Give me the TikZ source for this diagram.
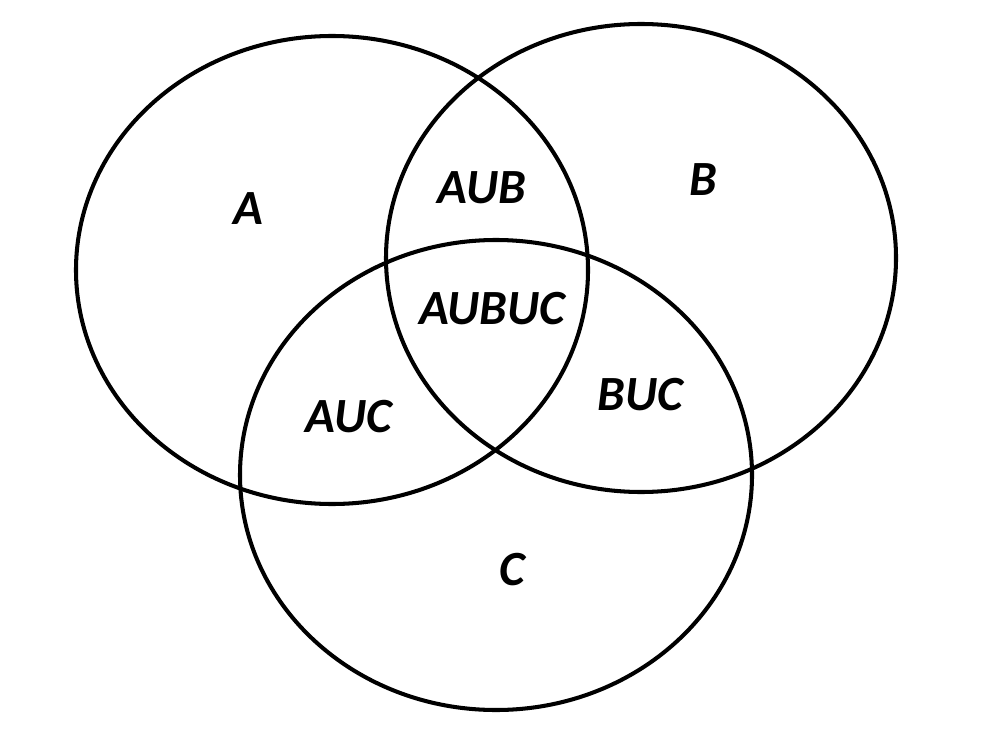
\documentclass[tikz,border=0pt]{standalone}
\usepackage{fontspec}
\setmainfont{Carlito}
\usepackage{tikz}

\tikzset{
  set/.style={draw=black,line width=2.3pt},
  lbl/.style={font=\fontsize{28}{33}\selectfont\bfseries\itshape,inner sep=0pt}
}

\begin{document}
\begin{tikzpicture}[x=0.02cm,y=-0.02cm]
\useasboundingbox (0,0) rectangle (999,729);
\draw[set] (332,270) ellipse [x radius=256,y radius=234];
\draw[set] (641,258) ellipse [x radius=255,y radius=234];
\draw[set] (496,475) ellipse [x radius=256,y radius=235];

\node[lbl](A) at (248,209) {A};
\node[lbl](B) at (703,180) {B};
\node[lbl](C) at (512,570) {C};
\node[lbl](AB) at (482,188) {AUB};
\node[lbl](ABC) at (492,309) {AUBUC};
\node[lbl](AC) at (349,417) {AUC};
\node[lbl](BC) at (640,395) {BUC};
\end{tikzpicture}
\end{document}
